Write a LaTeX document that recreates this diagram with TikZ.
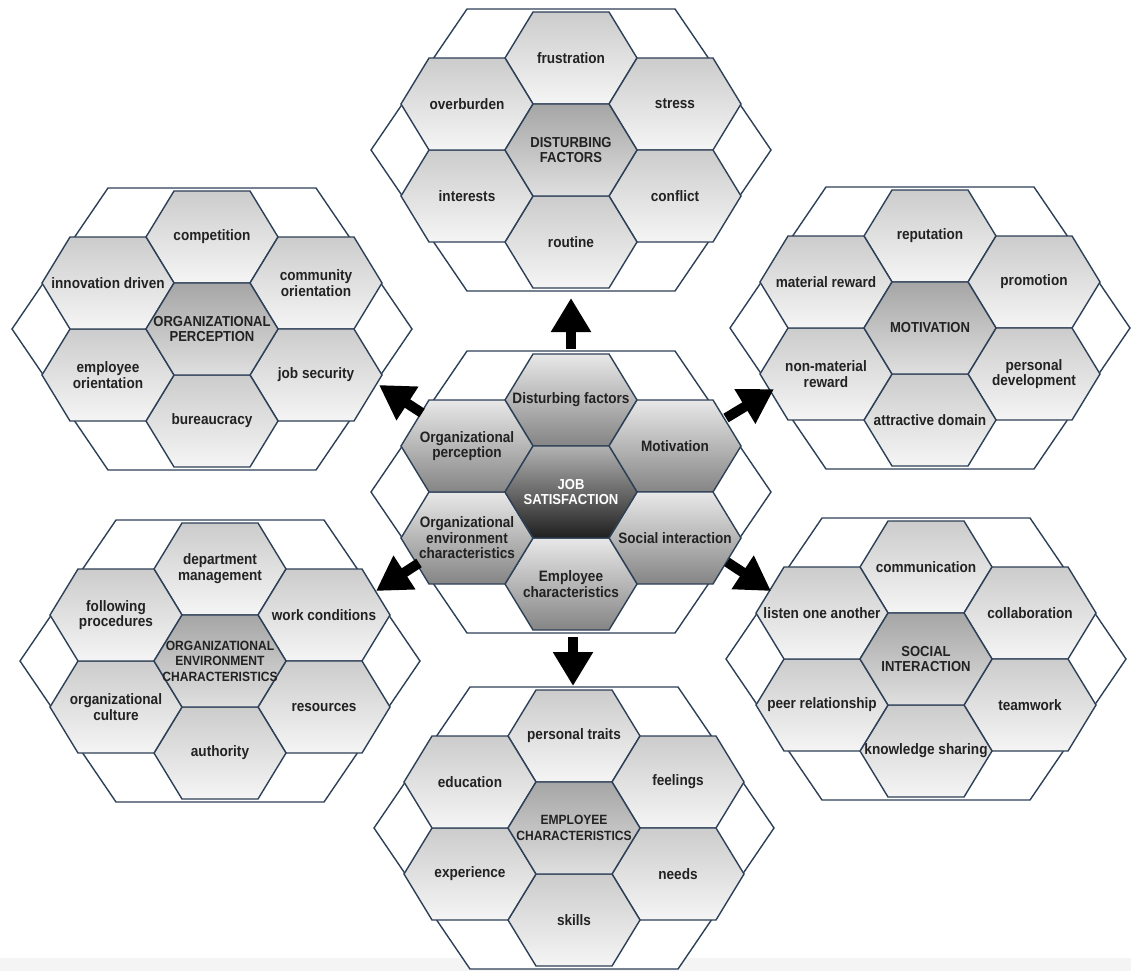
\documentclass[tikz,border=0pt]{standalone}
\usepackage{fontspec}
\setmainfont{Liberation Sans}
\newfontfamily\hexfont[FakeStretch=0.9]{Liberation Sans}
\usetikzlibrary{arrows.meta,shadings}
\definecolor{edgecol}{HTML}{2E4057}
\definecolor{txtcol}{HTML}{222222}
\newcommand{\smallcore}{\fontsize{13.4}{14.2}\selectfont}
\tikzset{
  outerhex/.style={draw=edgecol, line width=1.4pt, fill=white, line join=miter},
  hexbase/.style={draw=edgecol, line width=1.4pt, line join=miter},
  petalo/.style={hexbase, top color=gray!40, bottom color=gray!8},
  petalo label/.style={font=\hexfont\bfseries\fontsize{15.1}{15.8}\selectfont, text=txtcol, align=center, inner sep=0pt},
  coreo/.style={hexbase, top color=gray!70, bottom color=gray!25},
  coreo label/.style={font=\hexfont\bfseries\fontsize{14.5}{15.5}\selectfont, text=txtcol, align=center, inner sep=0pt},
  petalc/.style={hexbase, top color=gray!18, bottom color=black!48},
  petalc label/.style={font=\hexfont\bfseries\fontsize{15.1}{15.5}\selectfont, text=txtcol, align=center, inner sep=0pt},
  corec/.style={hexbase, top color=gray!60, bottom color=black!88},
  corec label/.style={font=\hexfont\bfseries\fontsize{14.5}{15.5}\selectfont, text=white, align=center, inner sep=0pt},
  bigarrow/.style={line width=10pt, black, -{Triangle[length=34pt, width=38pt]}},
}
\newcommand{\hexcell}[4]{%
  \path[#3] (#2) +(-66,0) -- +(-38,-46) -- +(38,-46) -- +(66,0) -- +(38,46) -- +(-38,46) -- cycle;
  \node[#3 label] (#1) at (#2) {#4};}
\newcommand{\hexgroup}[9]{%
  \begin{scope}[shift={(#1)}]
    \path[outerhex] (-200,0) -- (-104,-141) -- (104,-141) -- (200,0) -- (104,141) -- (-104,141) -- cycle;
    \hexcell{#1-t}{0,-92}{petal#9}{#3}
    \hexcell{#1-ur}{104,-46}{petal#9}{#4}
    \hexcell{#1-lr}{104,46}{petal#9}{#5}
    \hexcell{#1-b}{0,92}{petal#9}{#6}
    \hexcell{#1-ll}{-104,46}{petal#9}{#7}
    \hexcell{#1-ul}{-104,-46}{petal#9}{#8}
    \hexcell{#1-c}{0,0}{core#9}{#2}
  \end{scope}}
\begin{document}
\begin{tikzpicture}[x=1pt, y=-1pt]
\useasboundingbox (0,0) rectangle (1131,971);
\fill[gray!9] (0,958) rectangle (1131,971);
\coordinate (gJ) at (571,492);
\coordinate (gD) at (571,150);
\coordinate (gP) at (212,329);
\coordinate (gM) at (930,328);
\coordinate (gE) at (220,661);
\coordinate (gS) at (926,659);
\coordinate (gC) at (574,828);

\hexgroup{gD}{DISTURBING\\FACTORS}{frustration}{stress}{conflict}{routine}{interests}{overburden}{o}
\hexgroup{gP}{ORGANIZATIONAL\\PERCEPTION}{competition}{community\\orientation}{job security}{bureaucracy}{employee\\orientation}{innovation driven}{o}
\hexgroup{gM}{MOTIVATION}{reputation}{promotion}{personal\\development}{attractive domain}{non-material\\reward}{material reward}{o}
\hexgroup{gE}{\smallcore ORGANIZATIONAL\\\smallcore ENVIRONMENT\\\smallcore CHARACTERISTICS}{department\\management}{work conditions}{resources}{authority}{organizational\\culture}{following\\procedures}{o}
\hexgroup{gS}{SOCIAL\\INTERACTION}{communication}{collaboration}{teamwork}{knowledge sharing}{peer relationship}{listen one another}{o}
\hexgroup{gC}{\smallcore EMPLOYEE\\\smallcore CHARACTERISTICS}{personal traits}{feelings}{needs}{skills}{experience}{education}{o}
\hexgroup{gJ}{JOB\\SATISFACTION}{Disturbing factors}{Motivation}{Social interaction}{Employee\\characteristics}{Organizational\\environment\\characteristics}{Organizational\\perception}{c}

\coordinate (aU1) at (571,349);  \coordinate (aU2) at (571,298);
\coordinate (aUL1) at (422,413); \coordinate (aUL2) at (379,385);
\coordinate (aUR1) at (726,418); \coordinate (aUR2) at (774,389);
\coordinate (aDL1) at (419,563); \coordinate (aDL2) at (376,591);
\coordinate (aDR1) at (727,562); \coordinate (aDR2) at (771,591);
\coordinate (aD1) at (573,637);  \coordinate (aD2) at (573,686);
\draw[bigarrow] (aU1) -- (aU2);
\draw[bigarrow] (aUL1) -- (aUL2);
\draw[bigarrow] (aUR1) -- (aUR2);
\draw[bigarrow] (aDL1) -- (aDL2);
\draw[bigarrow] (aDR1) -- (aDR2);
\draw[bigarrow] (aD1) -- (aD2);
\end{tikzpicture}
\end{document}
